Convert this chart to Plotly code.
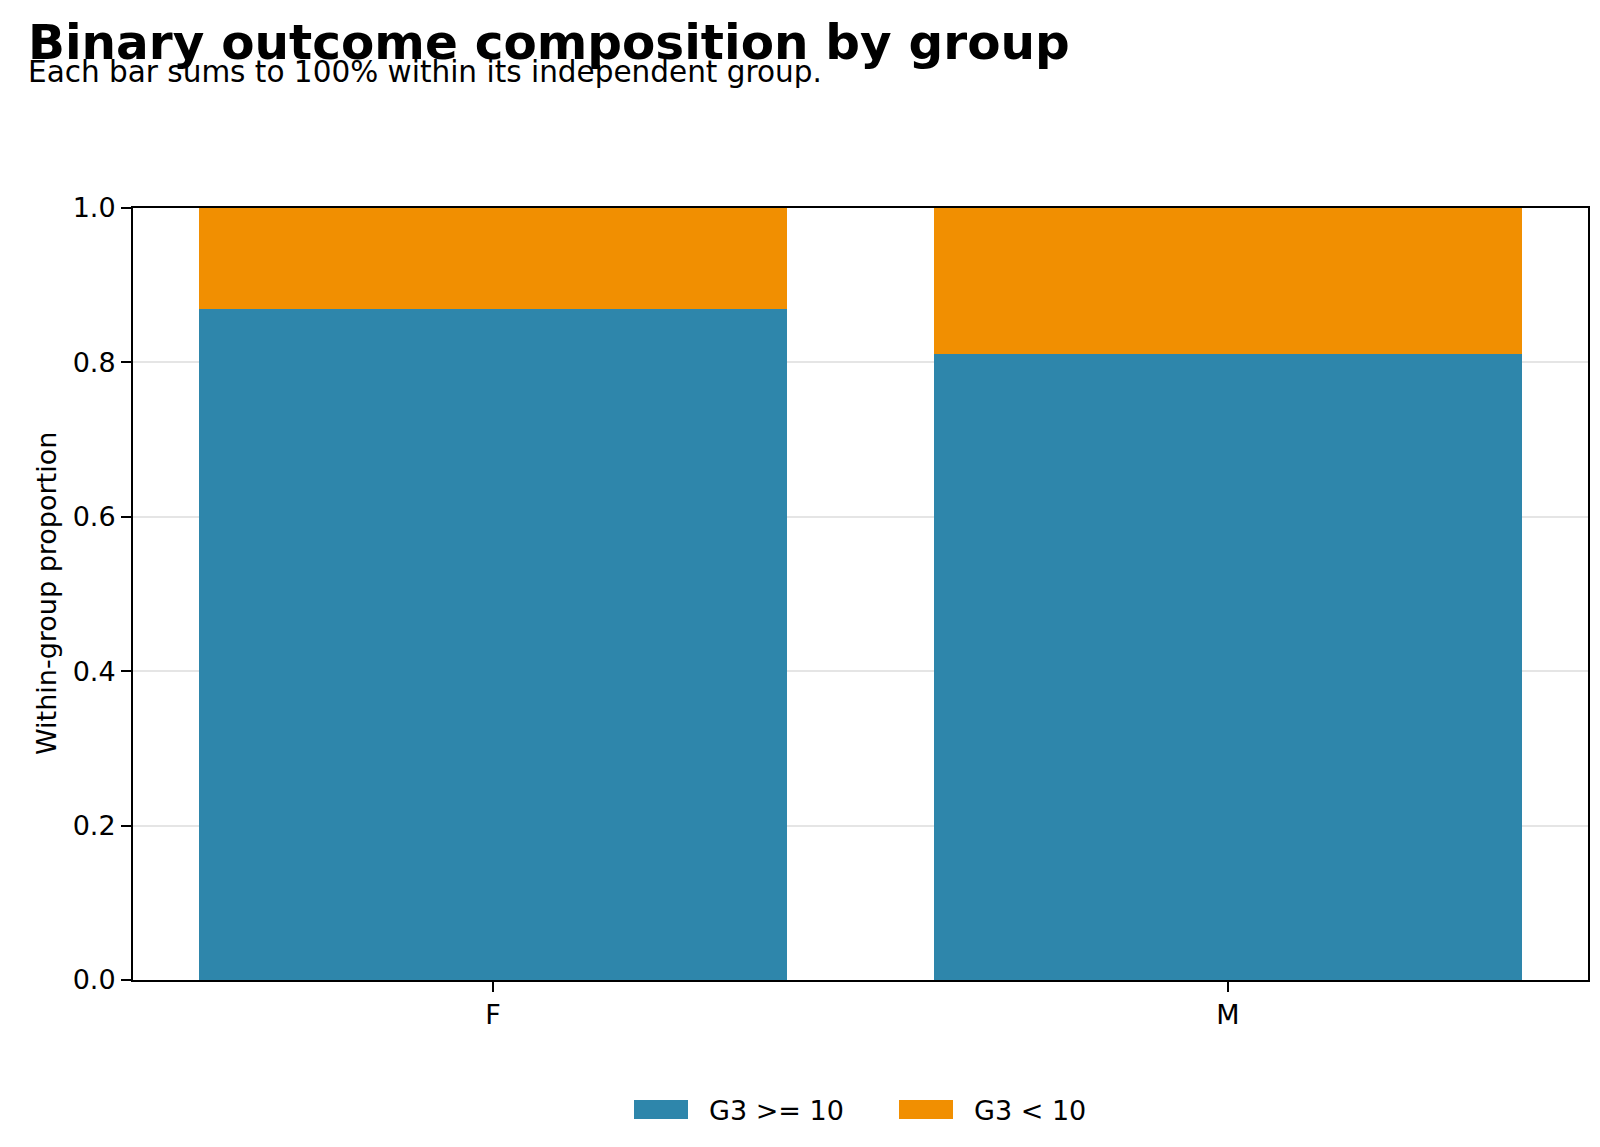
import plotly.graph_objects as go

groups = ["F", "M"]
pass_share = [0.869, 0.811]
fail_share = [0.131, 0.189]
series_names = ["G3 >= 10", "G3 < 10"]
series_colors = ["#2E86AB", "#F18F01"]
y_ticks = [0.0, 0.2, 0.4, 0.6, 0.8, 1.0]

W, H = 1600, 1147
L, R, T, B = 125, 20, 200, 175
pw = W - L - R
ph = H - T - B


def px_x(x):
    return (x - L) / pw


def px_y(y):
    return (T + ph - y) / ph


fig = go.Figure()
fig.add_trace(go.Bar(x=groups, y=pass_share, name=series_names[0],
                     marker=dict(color=series_colors[0], line=dict(width=0)), width=0.8))
fig.add_trace(go.Bar(x=groups, y=fail_share, name=series_names[1],
                     marker=dict(color=series_colors[1], line=dict(width=0)), width=0.8))

font = "DejaVu Sans"
fig.update_layout(
    barmode="stack",
    width=W, height=H,
    margin=dict(l=L, r=R, t=T, b=B, pad=0),
    paper_bgcolor="white", plot_bgcolor="white",
    font=dict(family=font, size=27, color="black"),
    showlegend=False,
)
fig.update_xaxes(
    range=[-0.49, 1.49], showline=True, linecolor="black", linewidth=2, mirror=True,
    ticks="outside", ticklen=10, tickwidth=2, tickcolor="black",
    tickfont=dict(size=27), showgrid=False, zeroline=False,
)
fig.update_yaxes(
    range=[0, 1], tickvals=y_ticks, ticktext=[f"{v:.1f}" for v in y_ticks],
    showline=True, linecolor="black", linewidth=2, mirror=True,
    ticks="outside", ticklen=10, tickwidth=2, tickcolor="black",
    tickfont=dict(size=27), showgrid=True, gridcolor="rgba(0,0,0,0.1)", gridwidth=2,
    zeroline=False, layer="above traces",
)

# y-axis title
fig.add_annotation(text="Within-group proportion", xref="paper", yref="paper",
                   x=px_x(38), y=0.5, xanchor="center", yanchor="middle", textangle=-90,
                   showarrow=False, font=dict(size=27, family=font, color="black"))

# title + subtitle
fig.add_annotation(text="<b>Binary outcome composition by group</b>", xref="paper", yref="paper",
                   x=px_x(18), y=px_y(4), xanchor="left", yanchor="top",
                   showarrow=False, font=dict(size=48.5, family=font, color="black"))
fig.add_annotation(text="Each bar sums to 100% within its independent group.", xref="paper", yref="paper",
                   x=px_x(18), y=px_y(45), xanchor="left", yanchor="top",
                   showarrow=False, font=dict(size=29.5, family=font, color="black"))

# legend (swatch + label)
legend_items = [(626, 680, 702), (891, 945, 967)]
for (x0, x1, tx), name, col in zip(legend_items, series_names, series_colors):
    fig.add_shape(type="rect", xref="paper", yref="paper",
                  x0=px_x(x0), x1=px_x(x1), y0=px_y(1111), y1=px_y(1092),
                  fillcolor=col, line=dict(width=0))
    fig.add_annotation(text=name, xref="paper", yref="paper",
                       x=px_x(tx - 3), y=px_y(1102), xanchor="left", yanchor="middle",
                       showarrow=False, font=dict(size=27, family=font, color="black"))

fig.write_html("out.html")
